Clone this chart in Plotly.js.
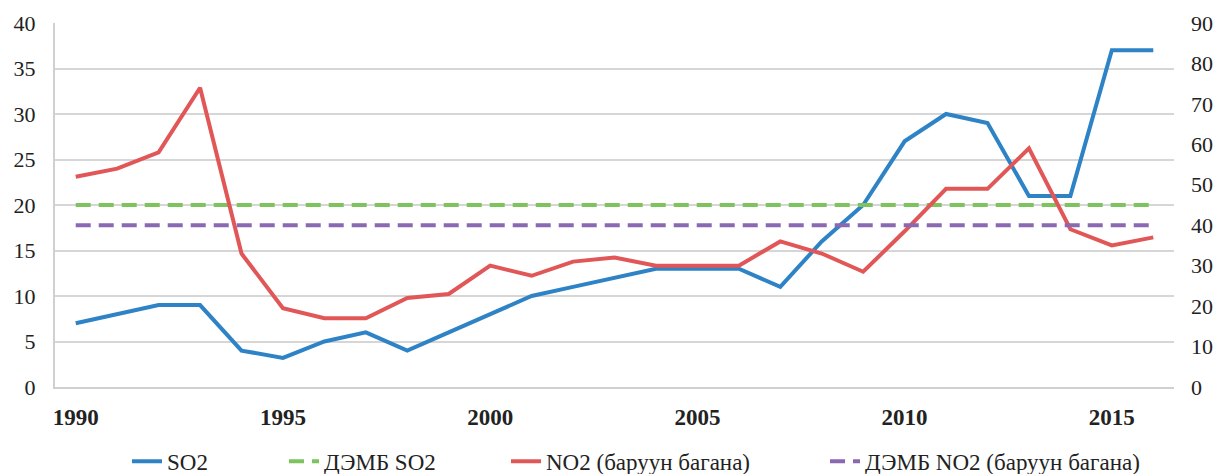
<!DOCTYPE html>
<html>
<head>
<meta charset="utf-8">
<script src="https://cdn.plot.ly/plotly-3.0.1.min.js"></script>
<style>html,body{margin:0;padding:0;background:#fff;}#chart{width:1219px;height:474px;}</style>
</head>
<body>
<div id="chart"></div>
<script>
const years = [1990,1991,1992,1993,1994,1995,1996,1997,1998,1999,2000,2001,2002,2003,2004,2005,2006,2007,2008,2009,2010,2011,2012,2013,2014,2015,2016];
const so2 = [7,8,9,9,4,3.2,5,6,4,6,8,10,11,12,13,13,13,11,16,20,27,30,29,21,21,37,37];
const no2 = [52,54,58,74,33,19.5,17,17,22,23,30,27.5,31,32,30,30,30,36,33,28.5,38.5,49,49,59,39,35,37];
const demb_so2 = 20;
const demb_no2 = 40;
const seriesNames = ["SO2","ДЭМБ SO2","NO2 (баруун багана)","ДЭМБ NO2 (баруун багана)"];
const xTicks = [1990,1995,2000,2005,2010,2015];
const leftTicks = [0,5,10,15,20,25,30,35,40];
const rightTicks = [0,10,20,30,40,50,60,70,80,90];

const font = "Liberation Serif";
const traces = [
  {x: years, y: so2, name: seriesNames[0], type: "scatter", mode: "lines",
   line: {color: "#2E83C6", width: 4}, yaxis: "y", legend: "legend"},
  {x: years, y: years.map(() => demb_so2), name: seriesNames[1], type: "scatter", mode: "lines",
   line: {color: "#7DC35E", width: 4, dash: "15px,8px"}, yaxis: "y", legend: "legend2"},
  {x: years, y: no2, name: seriesNames[2], type: "scatter", mode: "lines",
   line: {color: "#E15757", width: 4}, yaxis: "y2", legend: "legend3"},
  {x: years, y: years.map(() => demb_no2), name: seriesNames[3], type: "scatter", mode: "lines",
   line: {color: "#8A68B2", width: 4, dash: "15px,8px"}, yaxis: "y2", legend: "legend4"}
];
function leg(px) {
  return {orientation: "h", xref: "container", x: px / 1219, xanchor: "left",
          yref: "container", y: 0.027, yanchor: "middle", bgcolor: "rgba(0,0,0,0)",
          font: {family: font, size: 23, color: "#222"}};
}
const layout = {
  width: 1219, height: 474,
  margin: {l: 55, r: 45, t: 23, b: 87, autoexpand: false},
  paper_bgcolor: "#fff", plot_bgcolor: "#fff",
  font: {family: font, size: 22, color: "#222"},
  showlegend: true,
  legend: leg(127), legend2: leg(284), legend3: leg(506), legend4: leg(825),
  xaxis: {range: [1989.5, 2016.5], tickvals: xTicks, ticktext: xTicks.map(String), automargin: false,
          showgrid: false, zeroline: false, showline: true, linecolor: "#d0d0d0", linewidth: 2,
          ticks: "", ticklabelstandoff: 8, tickfont: {family: font, size: 23, color: "#222", weight: "bold"}},
  yaxis: {range: [0, 40], tickvals: leftTicks, showgrid: true, gridcolor: "#d6d6d6", gridwidth: 2, automargin: false,
          zeroline: false, showline: true, linecolor: "#d0d0d0", linewidth: 2, ticks: "",
          ticklabelstandoff: 13, tickfont: {family: font, size: 22, color: "#222"}},
  yaxis2: {range: [0, 90], tickvals: rightTicks, overlaying: "y", side: "right", showgrid: false, automargin: false,
           zeroline: false, showline: false, ticks: "", ticklabelstandoff: 16,
           tickfont: {family: font, size: 22, color: "#222"}}
};
Plotly.newPlot("chart", traces, layout, {displayModeBar: false, staticPlot: true});
</script>
</body>
</html>
